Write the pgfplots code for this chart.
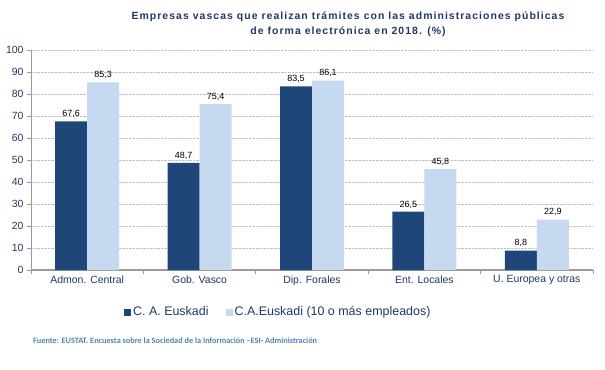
\documentclass[border=0pt]{standalone}
\usepackage{pgfplots}
\pgfplotsset{compat=1.18}
\usepackage{fontspec}
\setmainfont{Liberation Sans}
\newfontfamily\srcfont{Carlito}
\newfontfamily\titlefont[LetterSpace=10]{Liberation Sans}
\definecolor{dark}{HTML}{1F4678}
\definecolor{light}{HTML}{C6D9F1}
\definecolor{txt}{HTML}{1F3864}
\definecolor{src}{HTML}{4F81BD}
\pgfplotstableread{
x a b
0 67.6 85.3
1 48.7 75.4
2 83.5 86.1
3 26.5 45.8
4 8.8 22.9
}\datatable
\begin{document}
\begin{tikzpicture}[x=1bp,y=1bp]
\path[use as bounding box] (0,0) rectangle (605,369);
\begin{axis}[
  scale only axis, width=562bp, height=220bp,
  at={(31bp,99bp)}, anchor=south west,
  /pgf/number format/assume math mode=true,
  ymin=0, ymax=100, ytick={0,10,...,100},
  xmin=-0.5, xmax=4.5,
  xtick={-0.5,0.5,...,4.5}, xticklabels={},
  extra x ticks={0,1,2,3,4},
  extra x tick labels={Admon. Central, Gob. Vasco, Dip. Forales, Ent. Locales, U. Europea y otras},
  extra x tick style={major tick length=0pt},
  axis x line*=bottom, axis y line*=left,
  x axis line style={-, draw=gray!80, line width=1.5bp},
  y axis line style={-, draw=gray!80, line width=0.8bp},
  tick align=outside, major tick length=4bp,
  tick style={gray!80, line width=0.8bp},
  ymajorgrids, grid style={densely dotted, gray!50, line width=0.6bp},
  ticklabel style={font=\fontsize{10.5}{12}\selectfont, text=txt},
  xticklabel style={yshift=-2bp},
  ybar=0pt, bar width=32bp,
  nodes near coords,
  nodes near coords style={font=\fontsize{9}{10}\selectfont, text=black,
    /pgf/number format/.cd, use comma, fixed, fixed zerofill, precision=1},
  legend style={at={(0.44,-0.19)}, anchor=center, draw=none, fill=none,
    legend columns=2, font=\fontsize{12.5}{14}\selectfont, text=txt,
    /tikz/every even column/.append style={column sep=15bp}},
  legend image code/.code={\path[#1, draw=none] (0bp,-4bp) rectangle (7bp,3bp);},
]
\addplot[fill=dark, draw=none] table[x=x, y=a] {\datatable};
\addplot[fill=light, draw=none] table[x=x, y=b] {\datatable};
\legend{C. A. Euskadi, C.A.Euskadi (10 o más empleados)}
\end{axis}
\node[align=center, font=\titlefont\bfseries\fontsize{10.5}{15}\selectfont, text=txt] at (348,344.5)
  {Empresas vascas que realizan trámites con las administraciones públicas\\de forma electrónica en 2018. (\%)};
\node[anchor=west, inner sep=0pt, font=\srcfont\bfseries\fontsize{8.3}{10}\selectfont, text=src] at (33,28)
  {Fuente: EUSTAT. Encuesta sobre la Sociedad de la Información –ESI- Administración};
\end{tikzpicture}
\end{document}
